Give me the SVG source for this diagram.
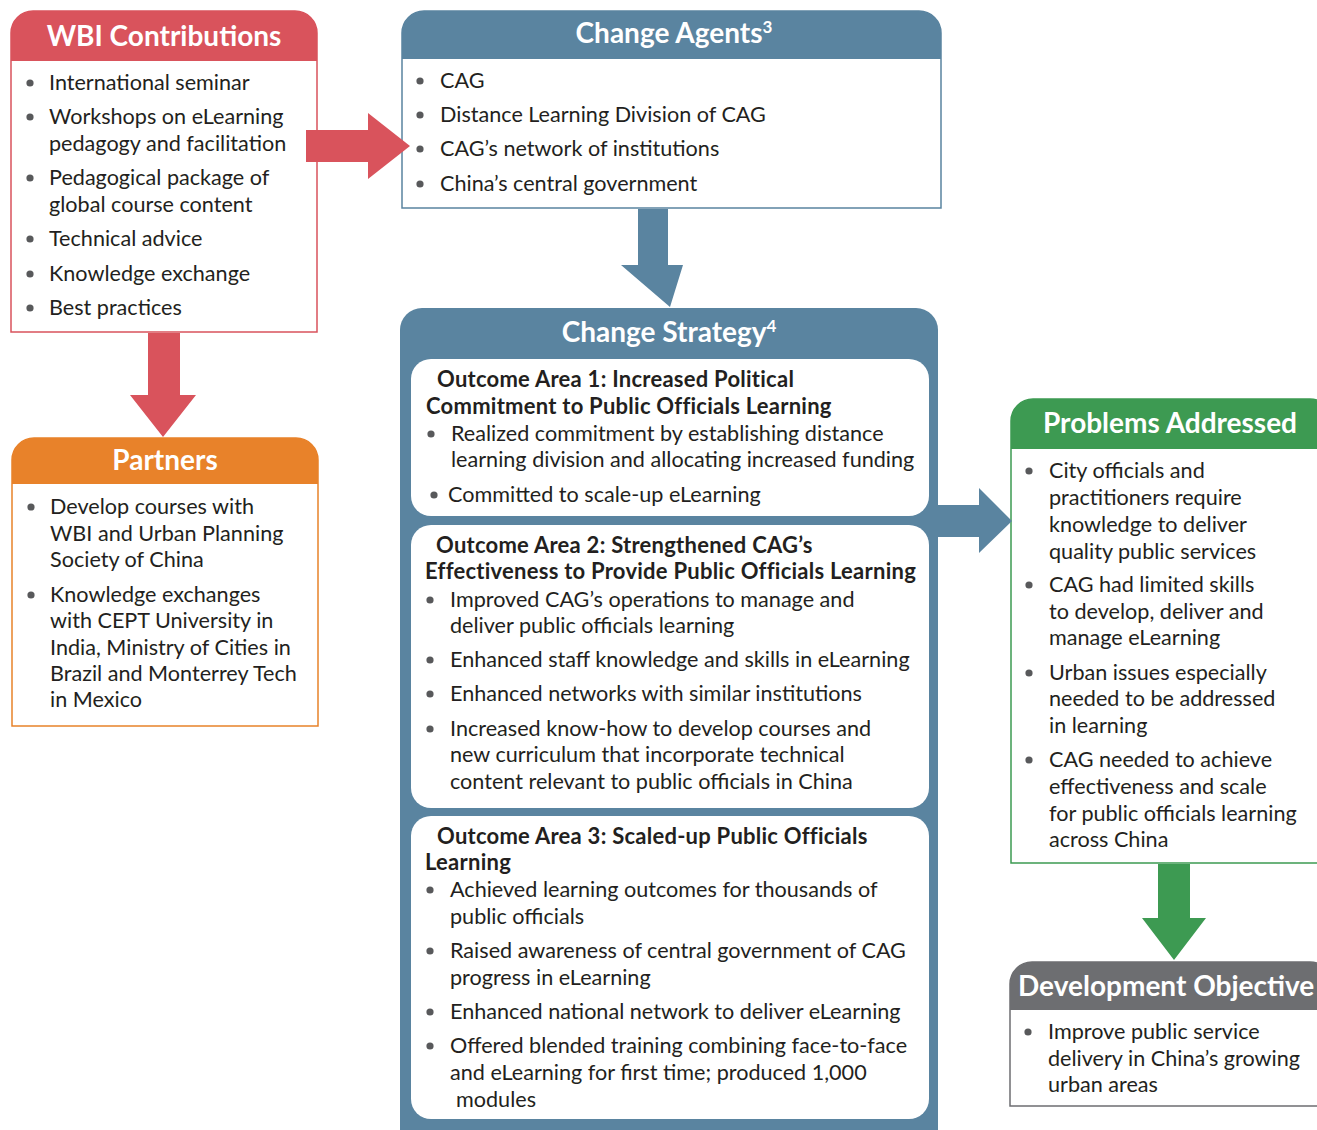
<svg xmlns="http://www.w3.org/2000/svg" width="1317" height="1130" viewBox="0 0 1317 1130">
<style>
text{font-family:Lato,"Open Sans","Liberation Sans",sans-serif;fill:#231f20;font-size:21.6px}
.h{font-weight:bold;fill:#fff;font-size:28px;text-anchor:middle}
.b{font-weight:bold;font-size:22px;letter-spacing:0.25px}
.dot{fill:#58595b}
</style>
<defs>
<circle id="bul" r="3.6" class="dot"/>
</defs>
<rect width="1317" height="1130" fill="#fff"/>

<g id="wbi">
<path d="M11,332 V33 A22,22 0 0 1 33,11 H295 A22,22 0 0 1 317,33 V332 Z" fill="#fff" stroke="#d9535c" stroke-width="1.5"/>
<path d="M11,61 V33 A22,22 0 0 1 33,11 H295 A22,22 0 0 1 317,33 V61 Z" fill="#d9535c"/>
<text class="h" x="164" y="46">WBI Contributions</text>
<use href="#bul" x="30" y="83"/><text x="49" y="90">International seminar</text>
<use href="#bul" x="30" y="117"/><text x="49" y="124">Workshops on eLearning</text>
<text x="49" y="151">pedagogy and facilitation</text>
<use href="#bul" x="30" y="178"/><text x="49" y="185">Pedagogical package of</text>
<text x="49" y="212">global course content</text>
<use href="#bul" x="30" y="239"/><text x="49" y="246">Technical advice</text>
<use href="#bul" x="30" y="274"/><text x="49" y="281">Knowledge exchange</text>
<use href="#bul" x="30" y="308"/><text x="49" y="315">Best practices</text>
</g>

<g id="partners">
<path d="M12,726 V460 A22,22 0 0 1 34,438 H296 A22,22 0 0 1 318,460 V726 Z" fill="#fff" stroke="#e8822a" stroke-width="1.5"/>
<path d="M12,484 V460 A22,22 0 0 1 34,438 H296 A22,22 0 0 1 318,460 V484 Z" fill="#e8822a"/>
<text class="h" x="165" y="470">Partners</text>
<use href="#bul" x="31" y="507"/><text x="50" y="514">Develop courses with</text>
<text x="50" y="541">WBI and Urban Planning</text>
<text x="50" y="567">Society of China</text>
<use href="#bul" x="31" y="595"/><text x="50" y="602">Knowledge exchanges</text>
<text x="50" y="628">with CEPT University in</text>
<text x="50" y="655">India, Ministry of Cities in</text>
<text x="50" y="681">Brazil and Monterrey Tech</text>
<text x="50" y="707">in Mexico</text>
</g>

<g id="agents">
<path d="M402,208 V33 A22,22 0 0 1 424,11 H919 A22,22 0 0 1 941,33 V208 Z" fill="#fff" stroke="#5a84a0" stroke-width="1.5"/>
<path d="M402,59 V33 A22,22 0 0 1 424,11 H919 A22,22 0 0 1 941,33 V59 Z" fill="#5a84a0"/>
<text class="h" x="674" y="43">Change Agents<tspan font-size="17" dy="-10">3</tspan></text>
<use href="#bul" x="420" y="81"/><text x="440" y="88">CAG</text>
<use href="#bul" x="420" y="115"/><text x="440" y="122">Distance Learning Division of CAG</text>
<use href="#bul" x="420" y="149"/><text x="440" y="156">CAG’s network of institutions</text>
<use href="#bul" x="420" y="184"/><text x="440" y="191">China’s central government</text>
</g>

<g id="strategy">
<path d="M400,1135 V330 A22,22 0 0 1 422,308 H916 A22,22 0 0 1 938,330 V1135 Z" fill="#5a84a0"/>
<text class="h" x="669" y="342">Change Strategy<tspan font-size="17" dy="-10">4</tspan></text>
</g>

<g id="outcome1">
<rect x="411" y="359" width="518" height="157" rx="20" fill="#fff"/>
<text class="b" x="437" y="387">Outcome Area 1: Increased Political</text>
<text class="b" x="426" y="414">Commitment to Public Officials Learning</text>
<use href="#bul" x="431" y="434"/><text x="451" y="441">Realized commitment by establishing distance</text>
<text x="451" y="467">learning division and allocating increased funding</text>
<use href="#bul" x="434" y="495"/><text x="448" y="502">Committed to scale-up eLearning</text>
</g>

<g id="outcome2">
<rect x="411" y="525" width="518" height="283" rx="20" fill="#fff"/>
<text class="b" x="436" y="553">Outcome Area 2: Strengthened CAG’s</text>
<text class="b" x="425" y="579">Effectiveness to Provide Public Officials Learning</text>
<use href="#bul" x="430" y="600"/><text x="450" y="607">Improved CAG’s operations to manage and</text>
<text x="450" y="633">deliver public officials learning</text>
<use href="#bul" x="430" y="660"/><text x="450" y="667">Enhanced staff knowledge and skills in eLearning</text>
<use href="#bul" x="430" y="694"/><text x="450" y="701">Enhanced networks with similar institutions</text>
<use href="#bul" x="430" y="729"/><text x="450" y="736">Increased know-how to develop courses and</text>
<text x="450" y="762">new curriculum that incorporate technical</text>
<text x="450" y="789">content relevant to public officials in China</text>
</g>

<g id="outcome3">
<rect x="411" y="816" width="518" height="303" rx="20" fill="#fff"/>
<text class="b" x="437" y="844">Outcome Area 3: Scaled-up Public Officials</text>
<text class="b" x="425" y="870">Learning</text>
<use href="#bul" x="430" y="890"/><text x="450" y="897">Achieved learning outcomes for thousands of</text>
<text x="450" y="924">public officials</text>
<use href="#bul" x="430" y="951"/><text x="450" y="958">Raised awareness of central government of CAG</text>
<text x="450" y="985">progress in eLearning</text>
<use href="#bul" x="430" y="1012"/><text x="450" y="1019">Enhanced national network to deliver eLearning</text>
<use href="#bul" x="430" y="1046"/><text x="450" y="1053">Offered blended training combining face-to-face</text>
<text x="450" y="1080">and eLearning for first time; produced 1,000</text>
<text x="456" y="1107">modules</text>
</g>

<g id="problems">
<path d="M1011,863 V421 A22,22 0 0 1 1033,399 H1310 A22,22 0 0 1 1332,421 V863 Z" fill="#fff" stroke="#3d9a52" stroke-width="1.5"/>
<path d="M1011,449 V421 A22,22 0 0 1 1033,399 H1310 A22,22 0 0 1 1332,421 V449 Z" fill="#3d9a52"/>
<text class="h" x="1170" y="433">Problems Addressed</text>
<use href="#bul" x="1029" y="471"/><text x="1049" y="478">City officials and</text>
<text x="1049" y="505">practitioners require</text>
<text x="1049" y="532">knowledge to deliver</text>
<text x="1049" y="559">quality public services</text>
<use href="#bul" x="1029" y="585"/><text x="1049" y="592">CAG had limited skills</text>
<text x="1049" y="619">to develop, deliver and</text>
<text x="1049" y="645">manage eLearning</text>
<use href="#bul" x="1029" y="673"/><text x="1049" y="680">Urban issues especially</text>
<text x="1049" y="706">needed to be addressed</text>
<text x="1049" y="733">in learning</text>
<use href="#bul" x="1029" y="760"/><text x="1049" y="767">CAG needed to achieve</text>
<text x="1049" y="794">effectiveness and scale</text>
<text x="1049" y="821">for public officials learning</text>
<text x="1049" y="847">across China</text>
</g>

<g id="objective">
<path d="M1010,1106 V984 A22,22 0 0 1 1032,962 H1310 A22,22 0 0 1 1332,984 V1106 Z" fill="#fff" stroke="#6d6e71" stroke-width="1.5"/>
<path d="M1010,1010 V984 A22,22 0 0 1 1032,962 H1310 A22,22 0 0 1 1332,984 V1010 Z" fill="#6d6e71"/>
<text class="h" x="1018" y="996" style="text-anchor:start">Development Objective</text>
<use href="#bul" x="1028" y="1032"/><text x="1048" y="1039">Improve public service</text>
<text x="1048" y="1066">delivery in China’s growing</text>
<text x="1048" y="1092">urban areas</text>
</g>

<g id="connectors">
<polygon points="306,130 368,130 368,113 410,146 368,179 368,162 306,162" fill="#d9535c"/>
<polygon points="148,333 180,333 180,395 196,395 163,437 130,395 148,395" fill="#d9535c"/>
<polygon points="638,209 668,209 668,265 683,265 670,307 621,265 638,265" fill="#5a84a0"/>
<polygon points="938,505 979,505 979,488 1012,521 979,553 979,537 938,537" fill="#5a84a0"/>
<polygon points="1158,864 1190,864 1190,918 1206,918 1174,960 1142,918 1158,918" fill="#3d9a52"/>
</g>
</svg>
